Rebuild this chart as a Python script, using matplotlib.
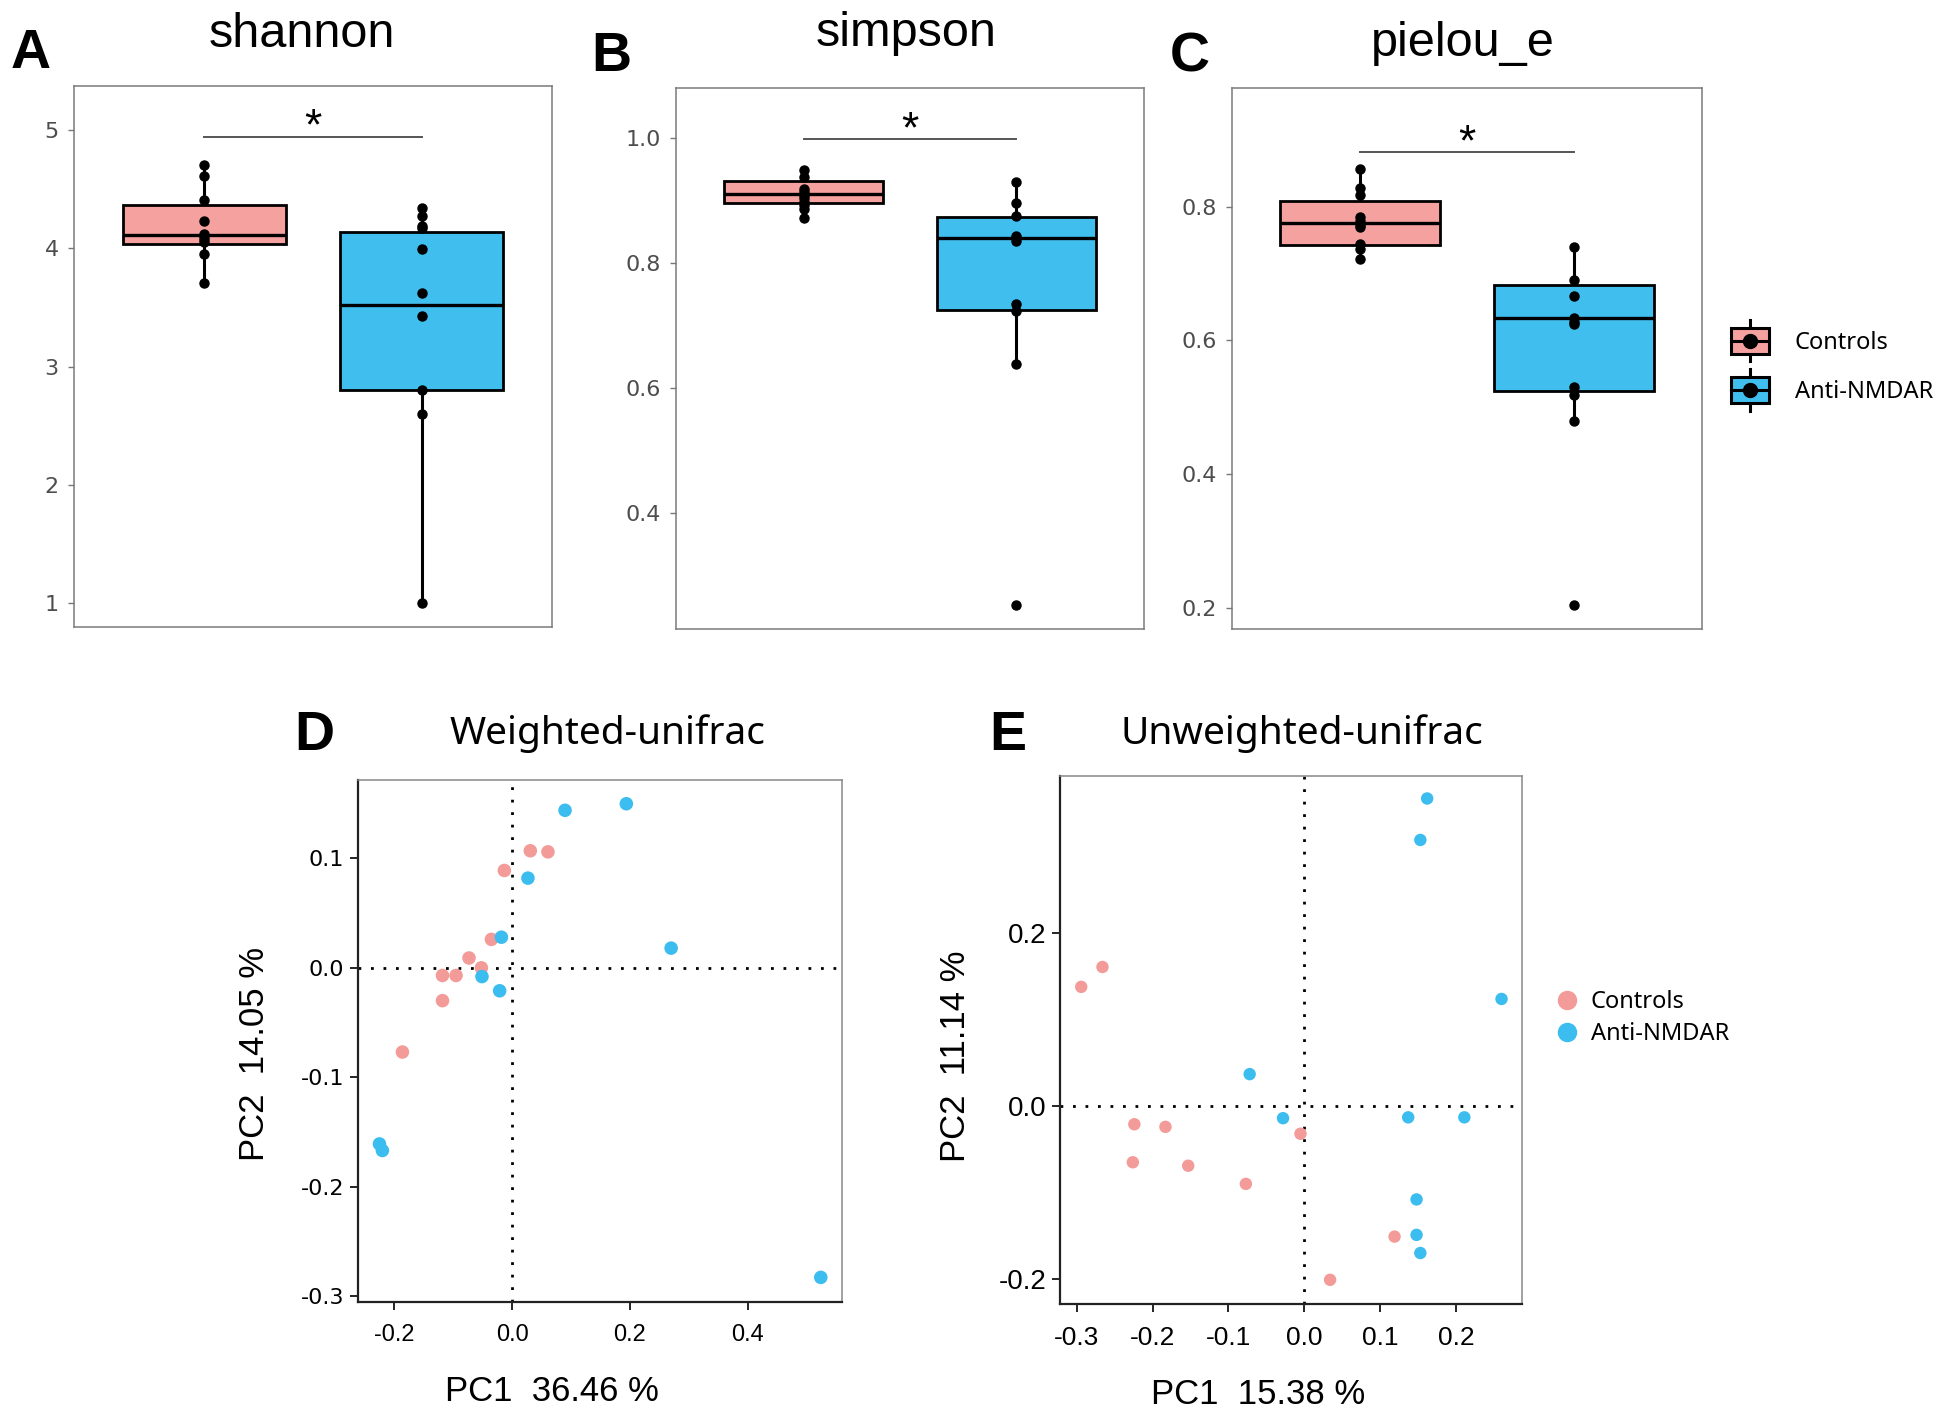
import matplotlib
matplotlib.use("Agg")
import matplotlib.pyplot as plt
from matplotlib.patches import Patch, Rectangle
from matplotlib.lines import Line2D
from matplotlib.legend_handler import HandlerBase

plt.rcParams["axes.unicode_minus"] = False

W, H = 1944, 1419
PINK = "#F4A19F"
BLUE = "#40BFEF"
PINK_PT = "#F39B98"
BLUE_PT = "#3BBDEF"
SANS = ["Liberation Sans", "DejaVu Sans"]
NOTO = ["Noto Sans", "DejaVu Sans"]

GROUPS = ["Controls", "Anti-NMDAR"]

# alpha diversity: raw points per group
shannon_ctrl = [4.70, 4.61, 4.41, 4.23, 4.12, 4.10, 4.08, 4.05, 3.95, 3.71]
shannon_nmdar = [4.34, 4.27, 4.19, 4.17, 3.99, 3.62, 3.43, 2.80, 2.60, 1.00]
simpson_ctrl = [0.949, 0.938, 0.918, 0.914, 0.909, 0.904, 0.898, 0.893, 0.887, 0.872]
simpson_nmdar = [0.930, 0.896, 0.875, 0.844, 0.840, 0.835, 0.734, 0.723, 0.638, 0.253]
pielou_ctrl = [0.856, 0.828, 0.817, 0.785, 0.779, 0.773, 0.770, 0.744, 0.736, 0.722]
pielou_nmdar = [0.740, 0.690, 0.667, 0.634, 0.628, 0.624, 0.531, 0.519, 0.480, 0.205]

# box statistics as drawn (Controls, Anti-NMDAR)
shannon_q1 = [4.035, 2.804]
shannon_med = [4.108, 3.52]
shannon_q3 = [4.363, 4.14]
shannon_lo = [3.706, 1.007]
shannon_hi = [4.70, 4.342]

simpson_q1 = [0.896, 0.725]
simpson_med = [0.910, 0.840]
simpson_q3 = [0.932, 0.8745]
simpson_lo = [0.872, 0.638]
simpson_hi = [0.949, 0.930]

pielou_q1 = [0.743, 0.524]
pielou_med = [0.775, 0.633]
pielou_q3 = [0.808, 0.683]
pielou_lo = [0.722, 0.480]
pielou_hi = [0.856, 0.740]

shannon_ticks = [1, 2, 3, 4, 5]
simpson_ticks = [0.4, 0.6, 0.8, 1.0]
pielou_ticks = [0.2, 0.4, 0.6, 0.8]

# PCoA coordinates
wu_ctrl_x = [-0.013, 0.031, 0.061, -0.035, -0.073, -0.052, -0.118, -0.095, -0.118, -0.186]
wu_ctrl_y = [0.089, 0.107, 0.106, 0.026, 0.009, 0.000, -0.007, -0.007, -0.030, -0.077]
wu_nmdar_x = [0.090, 0.194, 0.027, -0.018, 0.270, -0.051, -0.021, -0.225, -0.220, 0.524]
wu_nmdar_y = [0.144, 0.150, 0.082, 0.028, 0.018, -0.008, -0.021, -0.161, -0.167, -0.283]

uu_ctrl_x = [-0.294, -0.266, -0.224, -0.183, -0.226, -0.153, -0.077, -0.005, 0.119, 0.034]
uu_ctrl_y = [0.138, 0.161, -0.021, -0.024, -0.065, -0.069, -0.090, -0.032, -0.151, -0.201]
uu_nmdar_x = [0.162, 0.153, 0.260, -0.072, -0.028, 0.137, 0.211, 0.148, 0.148, 0.153]
uu_nmdar_y = [0.356, 0.308, 0.124, 0.037, -0.014, -0.013, -0.013, -0.108, -0.149, -0.170]

wu_xticks = [-0.2, 0.0, 0.2, 0.4]
wu_yticks = [-0.3, -0.2, -0.1, 0.0, 0.1]
uu_xticks = [-0.3, -0.2, -0.1, 0.0, 0.1, 0.2]
uu_yticks = [-0.2, 0.0, 0.2]


def px_rect(left, top, right, bottom):
    """Figure-fraction rect from pixel edges."""
    return [left / W, 1 - bottom / H, (right - left) / W, (bottom - top) / H]


def fig_text(fig, x, y, s, **kw):
    fig.text(x / W, 1 - y / H, s, **kw)


class BoxKeyHandler(HandlerBase):
    """Legend key drawn like a small boxplot with a point."""

    def create_artists(self, legend, orig_handle, xdescent, ydescent, width, height, fontsize, trans):
        x0, y0 = -xdescent, -ydescent
        cx, cy = x0 + width / 2, y0 + height / 2
        whisker = Line2D([cx, cx], [y0 - 0.3 * height, y0 + 1.3 * height], color="black", lw=2.2)
        box = Rectangle((x0, y0), width, height, facecolor=orig_handle.get_facecolor(),
                        edgecolor="black", lw=2.2)
        median = Line2D([x0, x0 + width], [cy, cy], color="black", lw=2.2)
        dot = Line2D([cx], [cy], marker="o", ms=10, color="black", ls="")
        for a in (whisker, box, median, dot):
            a.set_transform(trans)
        return [whisker, box, median, dot]


def alpha_panel(ax, ctrl, nmdar, q1, med, q3, lo, hi, ylim, ticks, sig_y):
    stats = []
    for i in range(2):
        stats.append({"med": med[i], "q1": q1[i], "q3": q3[i],
                      "whislo": lo[i], "whishi": hi[i], "fliers": []})
    bp = ax.bxp(stats, positions=[1, 2], widths=0.75, patch_artist=True,
                showfliers=False, showcaps=False,
                boxprops=dict(edgecolor="black", linewidth=2.0),
                medianprops=dict(color="black", linewidth=2.4),
                whiskerprops=dict(color="black", linewidth=2.2))
    for patch, color in zip(bp["boxes"], [PINK, BLUE]):
        patch.set_facecolor(color)
    for w in bp["whiskers"]:
        w.set_zorder(1)
    ax.plot([1] * len(ctrl), ctrl, "o", color="black", ms=6.5, zorder=4)
    ax.plot([2] * len(nmdar), nmdar, "o", color="black", ms=6.5, zorder=4)

    ax.plot([1, 2], [sig_y, sig_y], color="#555555", lw=1.4)
    ax.annotate("*", xy=(1.5, sig_y), xytext=(0, -2), textcoords="offset points",
                ha="center", va="baseline", fontsize=32, family=SANS)

    ax.set_xlim(0.4, 2.6)
    ax.set_ylim(*ylim)
    ax.set_xticks([])
    ax.set_yticks(ticks)
    ax.set_yticklabels([f"{t:g}" if t == int(t) and ticks[0] == 1 else f"{t:.1f}" for t in ticks],
                       family="DejaVu Sans", fontsize=16, color="#4D4D4D")
    ax.tick_params(axis="y", length=4, width=1, color="#777777", pad=7)
    for sp in ax.spines.values():
        sp.set_color("#7A7A7A")
        sp.set_linewidth(1.1)


def pcoa_panel(ax, cx, cy, nx, ny, xlim, ylim, xticks, yticks, size):
    ax.axhline(0, color="black", lw=2, ls=(0, (1, 3.5)), zorder=1)
    ax.axvline(0, color="black", lw=2, ls=(0, (1, 3.5)), zorder=1)
    ax.scatter(cx, cy, s=size, color=PINK_PT, edgecolor="none", zorder=3)
    ax.scatter(nx, ny, s=size, color=BLUE_PT, edgecolor="none", zorder=3)
    ax.set_xlim(*xlim)
    ax.set_ylim(*ylim)
    ax.set_xticks(xticks)
    ax.set_yticks(yticks)
    ax.set_xticklabels([f"{t:.1f}" for t in xticks])
    ax.set_yticklabels([f"{t:.1f}" for t in yticks])
    ax.tick_params(axis="both", length=6, width=1.2, color="black")
    ax.tick_params(axis="x", pad=10)
    ax.tick_params(axis="y", pad=4)
    for side in ("left", "bottom"):
        ax.spines[side].set_color("#222222")
        ax.spines[side].set_linewidth(1.6)
    for side in ("top", "right"):
        ax.spines[side].set_color("#888888")
        ax.spines[side].set_linewidth(1.1)


def main():
    fig = plt.figure(figsize=(W / 100, H / 100), dpi=100)

    ax_a = fig.add_axes(px_rect(74, 86, 552, 627))
    ax_b = fig.add_axes(px_rect(676, 88, 1144, 629))
    ax_c = fig.add_axes(px_rect(1232, 88, 1702, 629))

    alpha_panel(ax_a, shannon_ctrl, shannon_nmdar, shannon_q1, shannon_med, shannon_q3,
                shannon_lo, shannon_hi, (0.80, 5.37), shannon_ticks, 4.94)
    alpha_panel(ax_b, simpson_ctrl, simpson_nmdar, simpson_q1, simpson_med, simpson_q3,
                simpson_lo, simpson_hi, (0.215, 1.08), simpson_ticks, 0.998)
    alpha_panel(ax_c, pielou_ctrl, pielou_nmdar, pielou_q1, pielou_med, pielou_q3,
                pielou_lo, pielou_hi, (0.169, 0.977), pielou_ticks, 0.881)

    handles = [Patch(facecolor=PINK, label=GROUPS[0]), Patch(facecolor=BLUE, label=GROUPS[1])]
    ax_c.legend(handles=handles, handler_map={Patch: BoxKeyHandler()},
                loc="center left", bbox_to_anchor=(1719 / W, 1 - 366 / H),
                bbox_transform=fig.transFigure, frameon=False, borderpad=0,
                handlelength=1.6, handleheight=1.3, handletextpad=1.1, labelspacing=0.95,
                prop={"family": NOTO, "size": 17})

    fig_text(fig, 302, 47, "shannon", ha="center", va="baseline", fontsize=35, family=SANS)
    fig_text(fig, 906, 46, "simpson", ha="center", va="baseline", fontsize=35, family=SANS)
    fig_text(fig, 1463, 56, "pielou_e", ha="center", va="baseline", fontsize=35, family=SANS)
    fig_text(fig, 11, 68, "A", ha="left", va="baseline", fontsize=40, fontweight="bold", family=SANS)
    fig_text(fig, 591, 71, "B", ha="left", va="baseline", fontsize=40, fontweight="bold", family=SANS)
    fig_text(fig, 1170, 72, "C", ha="left", va="baseline", fontsize=40, fontweight="bold", family=SANS)

    ax_d = fig.add_axes(px_rect(358, 780, 842, 1302))
    ax_e = fig.add_axes(px_rect(1060, 776, 1522, 1304))

    pcoa_panel(ax_d, wu_ctrl_x, wu_ctrl_y, wu_nmdar_x, wu_nmdar_y,
               (-0.2614, 0.560), (-0.3055, 0.1717), wu_xticks, wu_yticks, 95)
    pcoa_panel(ax_e, uu_ctrl_x, uu_ctrl_y, uu_nmdar_x, uu_nmdar_y,
               (-0.322, 0.287), (-0.229, 0.382), uu_xticks, uu_yticks, 80)

    for lab in ax_d.get_xticklabels():
        lab.set_family(SANS)
        lab.set_fontsize(17)
    for lab in ax_d.get_yticklabels():
        lab.set_family("DejaVu Sans")
        lab.set_fontsize(16)
    for lab in ax_e.get_xticklabels():
        lab.set_family(SANS)
        lab.set_fontsize(19)
    for lab in ax_e.get_yticklabels():
        lab.set_family(SANS)
        lab.set_fontsize(20)

    ax_d.set_xlabel("PC1  36.46 %", family=SANS, fontsize=25)
    ax_d.set_ylabel("PC2  14.05 %", family=SANS, fontsize=25)
    ax_d.xaxis.set_label_coords(0.40, -0.14)
    ax_d.yaxis.set_label_coords(-0.18, 0.475)
    ax_e.set_xlabel("PC1  15.38 %", family=SANS, fontsize=25)
    ax_e.set_ylabel("PC2  11.14 %", family=SANS, fontsize=25)
    ax_e.xaxis.set_label_coords(0.428, -0.14)
    ax_e.yaxis.set_label_coords(-0.19, 0.47)

    fig_text(fig, 607, 744, "Weighted-unifrac", ha="center", va="baseline", fontsize=28, family=NOTO)
    fig_text(fig, 1302, 744, "Unweighted-unifrac", ha="center", va="baseline", fontsize=28, family=NOTO)
    fig_text(fig, 294, 750, "D", ha="left", va="baseline", fontsize=40, fontweight="bold", family=SANS)
    fig_text(fig, 989, 750, "E", ha="left", va="baseline", fontsize=40, fontweight="bold", family=SANS)

    dots = [Line2D([], [], marker="o", ls="", ms=13, color=PINK_PT, label=GROUPS[0]),
            Line2D([], [], marker="o", ls="", ms=13, color=BLUE_PT, label=GROUPS[1])]
    ax_e.legend(handles=dots, loc="center left", bbox_to_anchor=(1546 / W, 1 - 1018 / H),
                bbox_transform=fig.transFigure, frameon=False, borderpad=0,
                handlelength=0.8, handletextpad=0.6, labelspacing=0.35,
                prop={"family": NOTO, "size": 17})

    fig.savefig("out.png", dpi=100)


if __name__ == "__main__":
    main()
